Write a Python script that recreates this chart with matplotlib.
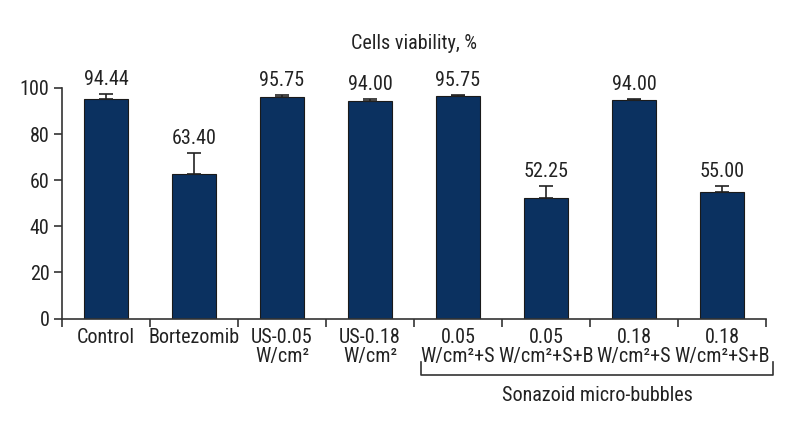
import matplotlib
matplotlib.use("Agg")
import matplotlib.pyplot as plt
from matplotlib.transforms import blended_transform_factory
from matplotlib.lines import Line2D
from matplotlib import font_manager

names = {f.name for f in font_manager.fontManager.ttflist}
fam = [f for f in ["Liberation Sans Narrow", "Roboto Condensed", "DejaVu Sans"] if f in names] + ["DejaVu Sans"]
plt.rcParams['font.family'] = fam

categories = ["Control", "Bortezomib", "US-0.05\nW/cm²", "US-0.18\nW/cm²",
              "0.05\nW/cm²+S", "0.05\nW/cm²+S+B", "0.18\nW/cm²+S", "0.18\nW/cm²+S+B"]
bar_values = [95.2, 62.8, 96.2, 94.5, 96.5, 52.4, 94.8, 55.1]
errors = [2.1, 9.1, 0.9, 0.7, 0.6, 5.0, 0.6, 2.2]
value_labels = ["94.44", "63.40", "95.75", "94.00", "95.75", "52.25", "94.00", "55.00"]
yticks = [0, 20, 40, 60, 80, 100]
title = "Cells viability, %"
group_label = "Sonazoid micro-bubbles"
group_start, group_end = 4, 8

color = "#0b3160"
fs = 14.5

fig = plt.figure(figsize=(8, 4.4), dpi=100)
ax = fig.add_axes([0.0775, 0.276, 0.88, 0.524])

x = [i + 0.5 for i in range(len(categories))]
ax.bar(x, bar_values, width=0.51, color=color, edgecolor="#1a1a1a", linewidth=0.8, zorder=2)
ax.errorbar(x, bar_values, yerr=[[0]*len(errors), errors], fmt="none", ecolor="#222222",
            elinewidth=1.2, capsize=5, capthick=1.2, zorder=3, clip_on=False)
for xi, v, e, lab in zip(x, bar_values, errors, value_labels):
    ax.text(xi, v + e + 2.2, lab, ha="center", va="bottom", fontsize=fs, color="#222222", clip_on=False)

ax.set_xlim(0, 8)
ax.set_ylim(0, 100)
ax.set_yticks(yticks)
ax.set_yticklabels([str(t) for t in yticks], fontsize=fs, color="#222222")
ax.set_xticks(range(0, 9))
ax.set_xticklabels([""] * 9)
ax.set_xticks(x, minor=True)
ax.set_xticklabels(categories, minor=True, fontsize=fs, color="#222222", linespacing=1.0)
ax.tick_params(axis="x", which="minor", length=0, pad=7)
ax.tick_params(axis="x", which="major", length=6, width=1.2, color="#333333", direction="out")
ax.tick_params(axis="y", length=6, width=1.2, color="#333333", direction="out", pad=3)
for s in ["top", "right"]:
    ax.spines[s].set_visible(False)
for s in ["left", "bottom"]:
    ax.spines[s].set_linewidth(1.2)
    ax.spines[s].set_color("#333333")

ax.set_title(title, fontsize=fs, color="#222222", pad=28)

tr = blended_transform_factory(ax.transData, fig.transFigure)
y_h = 1 - 375 / 440
y_v = 1 - 362 / 440
xs, xe = group_start + 0.08, group_end + 0.08
fig.add_artist(Line2D([xs, xs, xe, xe], [y_v, y_h, y_h, y_v], transform=tr, color="#333333", linewidth=1.2))
fig.text((xs + xe) / 2, 1 - 395 / 440, group_label, transform=tr, ha="center", va="center",
         fontsize=fs, color="#222222")

fig.savefig("out.png", dpi=100, facecolor="white")
